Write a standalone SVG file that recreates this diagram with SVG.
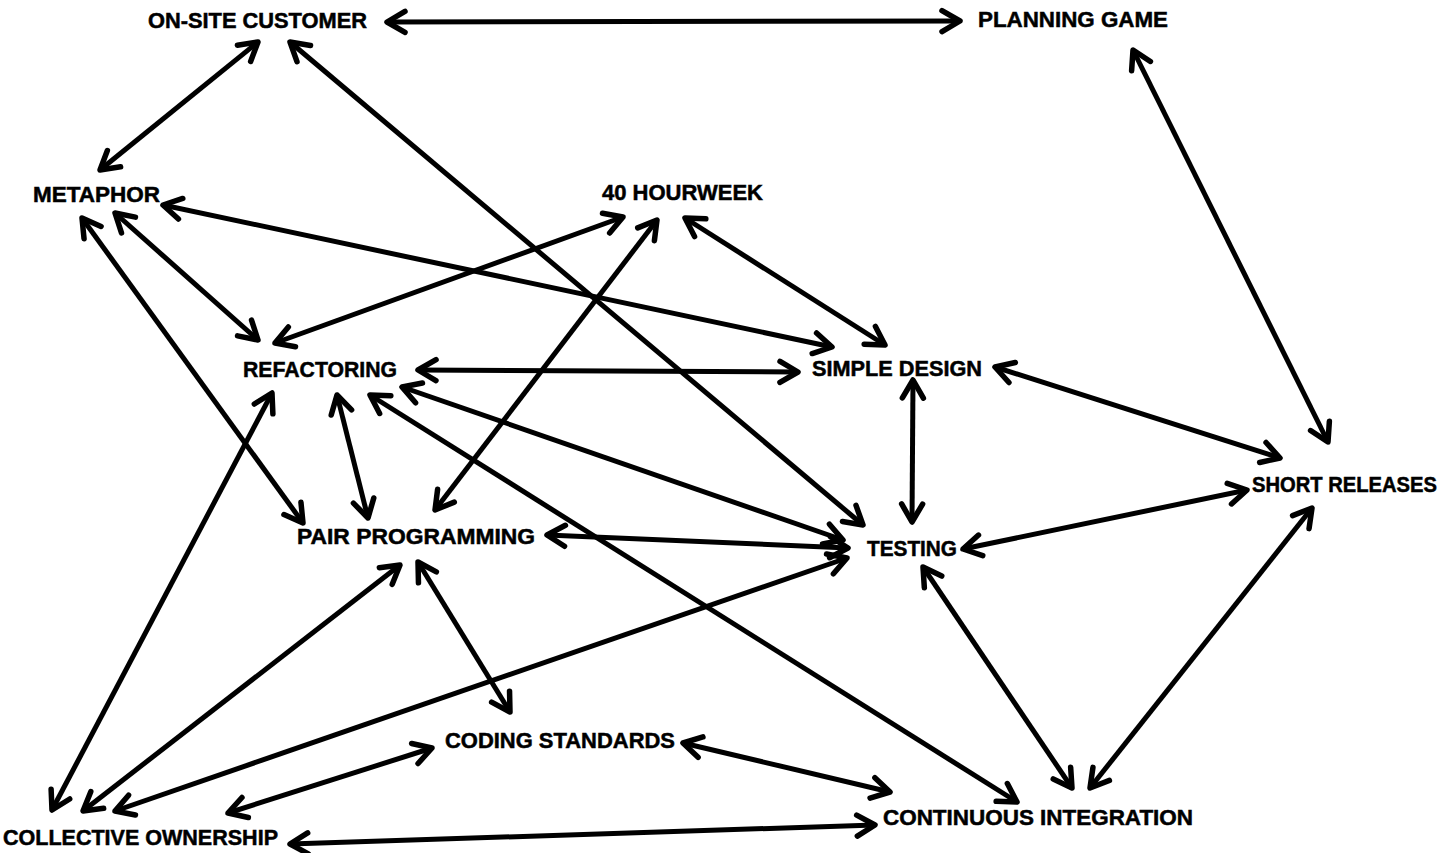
<svg xmlns="http://www.w3.org/2000/svg" width="1447" height="853" viewBox="0 0 1447 853">
<style>
text{font-family:"Liberation Sans",Arial,sans-serif;font-weight:bold;font-size:21.5px;fill:#000;stroke:#000;stroke-width:0.5}
.e line{stroke:#000;stroke-width:5;marker-start:url(#a);marker-end:url(#a)}
</style>
<defs>
<marker id="a" markerUnits="userSpaceOnUse" viewBox="-25 -15 30 30" refX="0" refY="0" markerWidth="30" markerHeight="30" orient="auto-start-reverse" overflow="visible">
<path d="M-18,-10.5 L0,0 L-18,10.5" fill="none" stroke="#000" stroke-width="5.5" stroke-linecap="round" stroke-linejoin="round"/>
</marker>
</defs>
<rect width="1447" height="853" fill="#fff"/>
<g class="e" id="connectors">
<line x1="387" y1="22" x2="960" y2="21"/>
<line x1="258" y1="42" x2="100" y2="170"/>
<line x1="290" y1="42" x2="863" y2="525"/>
<line x1="1133" y1="50" x2="1328" y2="442"/>
<line x1="163" y1="205" x2="832" y2="347"/>
<line x1="115" y1="213" x2="258" y2="340"/>
<line x1="82" y1="218" x2="303" y2="523"/>
<line x1="623" y1="217" x2="275" y2="343"/>
<line x1="657" y1="220" x2="435" y2="510"/>
<line x1="685" y1="218" x2="885" y2="345"/>
<line x1="418" y1="370" x2="798" y2="372"/>
<line x1="337" y1="395" x2="368" y2="518"/>
<line x1="402" y1="387" x2="843" y2="540"/>
<line x1="370" y1="395" x2="1017" y2="802"/>
<line x1="272" y1="393" x2="52" y2="810"/>
<line x1="913" y1="380" x2="912" y2="522"/>
<line x1="995" y1="367" x2="1280" y2="458"/>
<line x1="547" y1="535" x2="848" y2="548"/>
<line x1="400" y1="565" x2="83" y2="811"/>
<line x1="418" y1="562" x2="510" y2="712"/>
<line x1="847" y1="558" x2="115" y2="811"/>
<line x1="963" y1="549" x2="1247" y2="490"/>
<line x1="923" y1="567" x2="1072" y2="788"/>
<line x1="1312" y1="508" x2="1090" y2="788"/>
<line x1="432" y1="748" x2="228" y2="813"/>
<line x1="683" y1="743" x2="890" y2="792"/>
<line x1="290" y1="844" x2="875" y2="825"/>
</g>
<g id="on-site-customer"><text x="148" y="28" textLength="219" lengthAdjust="spacingAndGlyphs">ON-SITE CUSTOMER</text></g>
<g id="planning-game"><text x="978" y="27" textLength="190" lengthAdjust="spacingAndGlyphs">PLANNING GAME</text></g>
<g id="metaphor"><text x="33" y="202" textLength="127" lengthAdjust="spacingAndGlyphs">METAPHOR</text></g>
<g id="hourweek"><text x="602" y="200" textLength="161" lengthAdjust="spacingAndGlyphs">40 HOURWEEK</text></g>
<g id="refactoring"><text x="243" y="377" textLength="154" lengthAdjust="spacingAndGlyphs">REFACTORING</text></g>
<g id="simple-design"><text x="812" y="376" textLength="170" lengthAdjust="spacingAndGlyphs">SIMPLE DESIGN</text></g>
<g id="pair-programming"><text x="297" y="544" textLength="238" lengthAdjust="spacingAndGlyphs">PAIR PROGRAMMING</text></g>
<g id="testing"><text x="867" y="556" textLength="90" lengthAdjust="spacingAndGlyphs">TESTING</text></g>
<g id="short-releases"><text x="1252" y="492" textLength="185" lengthAdjust="spacingAndGlyphs">SHORT RELEASES</text></g>
<g id="coding-standards"><text x="445" y="748" textLength="230" lengthAdjust="spacingAndGlyphs">CODING STANDARDS</text></g>
<g id="collective-ownership"><text x="3" y="845" textLength="275" lengthAdjust="spacingAndGlyphs">COLLECTIVE OWNERSHIP</text></g>
<g id="continuous-integration"><text x="883" y="825" textLength="310" lengthAdjust="spacingAndGlyphs">CONTINUOUS INTEGRATION</text></g>
</svg>
